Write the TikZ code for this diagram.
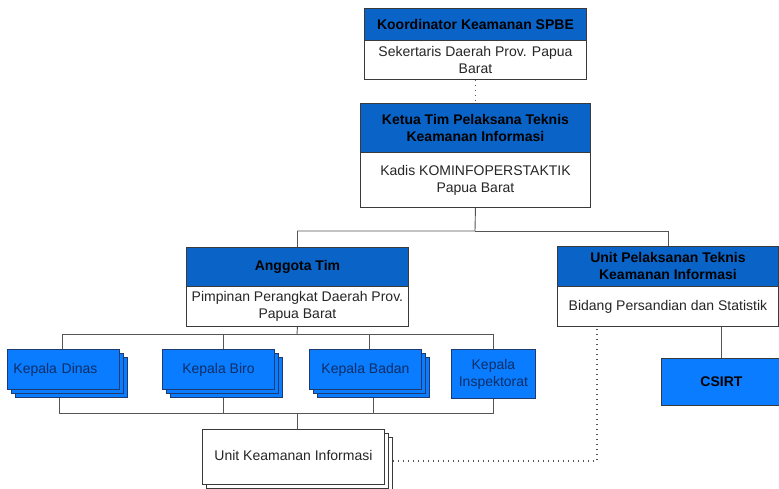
\documentclass[tikz,border=0pt]{standalone}
\usepackage{fontspec}
\setmainfont{Liberation Sans}
\definecolor{hdrblue}{HTML}{0A64C8}
\definecolor{kepblue}{HTML}{0A7CFF}
\definecolor{kepborder}{HTML}{1F3A6E}
\definecolor{keptext}{HTML}{0D2E66}
\definecolor{bordergray}{HTML}{3A3A3A}
\definecolor{linegray}{HTML}{555555}
\begin{document}
\begin{tikzpicture}[x=1pt,y=-1pt,
 box/.style={draw=bordergray, line width=0.9pt, inner sep=0pt, anchor=north west, align=center, font=\fontsize{14}{17}\selectfont},
 hdr/.style={box, fill=hdrblue, font=\fontsize{14}{17}\selectfont\bfseries},
 bodybox/.style={box, fill=white, text=black!85},
 kep/.style={box, fill=kepblue, draw=kepborder, text=keptext},
 conn/.style={draw=linegray, line width=0.9pt},
 dots/.style={draw=linegray, line width=1.3pt, dash pattern=on 1.3pt off 3.7pt}
]
\useasboundingbox (0,0) rectangle (779,488);
\clip (0,0) rectangle (779,488);
\fill[white] (0,0) rectangle (779,488);

% Koordinator
\node[hdr, minimum width=222pt, minimum height=32pt] (koorH) at (364,8) {Koordinator Keamanan SPBE};
\node[bodybox, minimum width=222pt, minimum height=39pt] (koorB) at (364,40) {Sekertaris Daerah Prov. Papua\\Barat};

% Ketua
\node[hdr, minimum width=230pt, minimum height=49pt] (ketH) at (360,103) {Ketua Tim Pelaksana Teknis\\Keamanan Informasi};
\node[bodybox, minimum width=230pt, minimum height=55pt] (ketB) at (360,152) {Kadis KOMINFOPERSTAKTIK\\Papua Barat};

% Anggota
\node[hdr, minimum width=222pt, minimum height=39pt] (aggH) at (186,247) {Anggota Tim};
\node[bodybox, minimum width=222pt, minimum height=40pt] (aggB) at (186,286) {Pimpinan Perangkat Daerah Prov.\\Papua Barat};

% UPT
\node[hdr, minimum width=221pt, minimum height=40pt] (uptH) at (557,246) {Unit Pelaksanan Teknis\\Keamanan Informasi};
\node[bodybox, minimum width=221pt, minimum height=40pt] (uptB) at (557,286) {Bidang Persandian dan Statistik};

% CSIRT
\node[box, fill=kepblue, font=\fontsize{14}{17}\selectfont\bfseries, minimum width=120pt, minimum height=47pt] (csirt) at (661,358) {CSIRT};

% Kepala Dinas (stack)
\node[kep, minimum width=112pt, minimum height=40pt] (din2) at (15,357) {};
\node[kep, minimum width=112pt, minimum height=40pt] (din1) at (11,353) {};
\node[kep, text width=100pt, align=left, inner xsep=6pt, minimum height=40pt] (din) at (7,349) {Kepala Dinas};

% Kepala Biro (stack)
\node[kep, minimum width=112pt, minimum height=40pt] (bir2) at (170,357) {};
\node[kep, minimum width=112pt, minimum height=40pt] (bir1) at (166,353) {};
\node[kep, minimum width=112pt, minimum height=40pt] (bir) at (162,349) {Kepala Biro};

% Kepala Badan (stack)
\node[kep, minimum width=112pt, minimum height=40pt] (bad2) at (317,357) {};
\node[kep, minimum width=112pt, minimum height=40pt] (bad1) at (313,353) {};
\node[kep, minimum width=112pt, minimum height=40pt] (bad) at (309,349) {Kepala Badan};

% Kepala Inspektorat
\node[kep, minimum width=84pt, minimum height=49pt] (ins) at (451,349) {Kepala\\Inspektorat};

% Unit Keamanan Informasi (stack)
\node[bodybox, minimum width=182pt, minimum height=55pt] (uk2) at (210,437) {};
\node[bodybox, minimum width=182pt, minimum height=55pt] (uk1) at (206,433) {};
\node[bodybox, minimum width=182pt, minimum height=55pt] (uk) at (202,429) {\raisebox{4pt}{Unit Keamanan Informasi}};

% connectors
\coordinate (j1) at (475,231);
\coordinate (j2) at (297,334);
\coordinate (j3) at (297,413);
\coordinate (dl) at (0,461);

\draw[dots] (koorB.south) -- (ketH.north);
\draw[conn] (ketB.south) -- (j1) -| (aggH.north);
\draw[conn] (j1) -| (uptH.north);

\draw[conn] (aggB.south) -- (j2);
\draw[conn] (j2) -| ([xshift=-1pt]din.north);
\draw[conn] (j2) -| ([xshift=5pt]bir.north);
\draw[conn] (j2) -| ([xshift=4pt]bad.north);
\draw[conn] (j2) -| (ins.north);

\draw[conn] (j3) -| ([xshift=-12pt]din2.south);
\draw[conn] (j3) -| ([xshift=-3pt]bir2.south);
\draw[conn] (j3) -| (bad2.south);
\draw[conn] (j3) -| (ins.south);
\draw[conn] (j3) -- (uk.north -| j3);

\draw[conn] (uptB.south -| csirt.north) -- (csirt.north);
\draw[dots] (uk2.east |- dl) -| ([xshift=-71pt]uptB.south);
\end{tikzpicture}
\end{document}
